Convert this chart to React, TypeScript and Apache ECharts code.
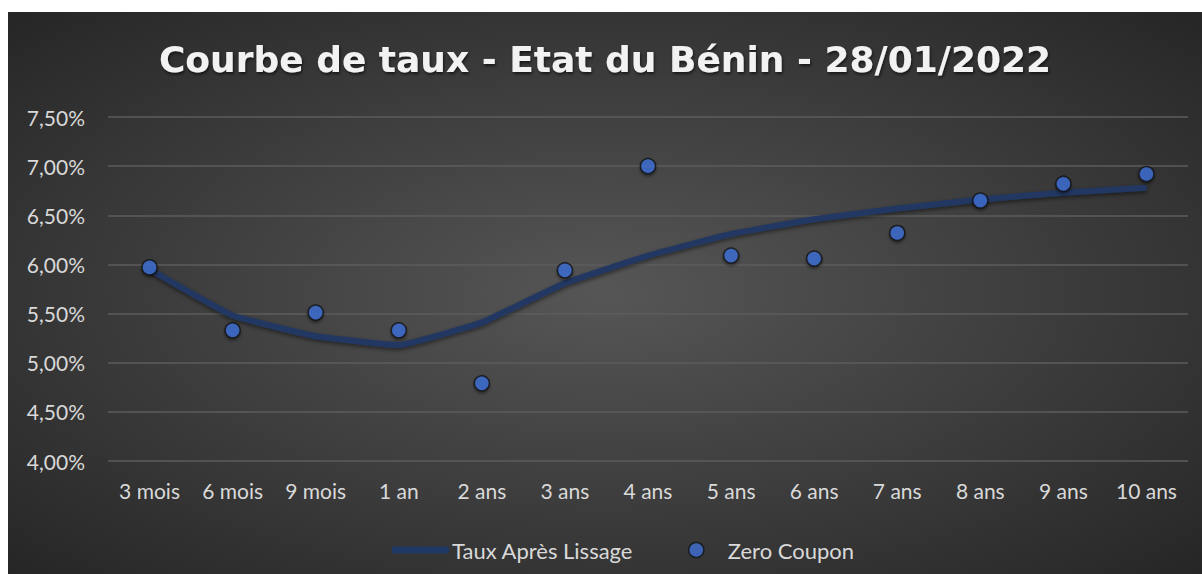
import React, { useEffect, useRef } from "react";
import * as echarts from "echarts";

const categories = ["3 mois", "6 mois", "9 mois", "1 an", "2 ans", "3 ans", "4 ans", "5 ans", "6 ans", "7 ans", "8 ans", "9 ans", "10 ans"];
const tauxLisse = [5.95, 5.48, 5.27, 5.18, 5.41, 5.81, 6.09, 6.31, 6.46, 6.57, 6.66, 6.73, 6.78];
const zeroCoupon = [5.97, 5.33, 5.51, 5.33, 4.79, 5.94, 7.0, 6.09, 6.06, 6.32, 6.65, 6.82, 6.92];
const yTicks = { min: 4, max: 7.5, interval: 0.5 };

const FONT = "Lato";
const LINE_COLOR = "#203864";
const DOT_COLOR = "#3f6fd4";

export default function App() {
  const ref = useRef<HTMLDivElement>(null);
  useEffect(() => {
    if (!ref.current) return;
    const chart = echarts.init(ref.current, null, { renderer: "svg" });
    chart.setOption({
      animation: false,
      backgroundColor: {
        type: "radial",
        x: 0.5,
        y: 0.5,
        r: 0.75,
        colorStops: [
          { offset: 0, color: "#565656" },
          { offset: 1, color: "#232323" },
        ],
      },
      title: {
        text: "Courbe de taux - Etat du Bénin - 28/01/2022",
        left: "center",
        top: 24,
        textStyle: {
          color: "#f2f2f2",
          fontFamily: "DejaVu Sans",
          fontWeight: "bold",
          fontSize: 36,
          textShadowColor: "rgba(0,0,0,0.6)",
          textShadowBlur: 3,
          textShadowOffsetX: 1,
          textShadowOffsetY: 2,
        },
      },
      grid: { left: 100, right: 14, top: 105, bottom: 113, containLabel: false },
      xAxis: {
        type: "category",
        data: categories,
        boundaryGap: true,
        axisLine: { show: false },
        axisTick: { show: false },
        axisLabel: { color: "#d9d9d9", fontSize: 21, fontFamily: FONT, margin: 19 },
      },
      yAxis: {
        type: "value",
        min: yTicks.min,
        max: yTicks.max,
        interval: yTicks.interval,
        axisLine: { show: false },
        axisTick: { show: false },
        splitLine: { lineStyle: { color: "#5c5c5c", width: 1.5 } },
        axisLabel: {
          color: "#d9d9d9",
          fontSize: 21,
          fontFamily: FONT,
          margin: 23,
          formatter: (v: number) => v.toFixed(2).replace(".", ",") + "%",
        },
      },
      legend: [
        {
          data: [{ name: "Taux Après Lissage", icon: "roundRect" }],
          left: 379,
          top: 522,
          itemWidth: 57,
          itemHeight: 7,
          itemGap: 0,
          textStyle: { color: "#d9d9d9", fontSize: 22, fontFamily: FONT, padding: [0, 0, 0, -2] },
          itemStyle: { color: LINE_COLOR },
          lineStyle: { color: LINE_COLOR, width: 7, cap: "round" },
        },
        {
          data: [{ name: "Zero Coupon", icon: "circle" }],
          left: 675,
          top: 522,
          itemWidth: 15,
          itemHeight: 15,
          textStyle: { color: "#d9d9d9", fontSize: 22, fontFamily: FONT, padding: [0, 0, 0, 19] },
          itemStyle: { color: DOT_COLOR, borderColor: "#111", borderWidth: 1.5 },
        },
      ],
      series: [
        {
          name: "Taux Après Lissage",
          type: "line",
          data: tauxLisse,
          showSymbol: false,
          symbol: "none",
          smooth: 0.1,
          lineStyle: {
            color: LINE_COLOR,
            width: 6,
            shadowColor: "rgba(0,0,0,0.5)",
            shadowBlur: 4,
            shadowOffsetY: 2,
          },
          itemStyle: { color: LINE_COLOR },
          z: 2,
        },
        {
          name: "Zero Coupon",
          type: "scatter",
          data: zeroCoupon,
          symbol: "circle",
          symbolSize: 15,
          itemStyle: {
            color: DOT_COLOR,
            borderColor: "#111",
            borderWidth: 1.5,
            shadowColor: "rgba(0,0,0,0.5)",
            shadowBlur: 3,
            shadowOffsetY: 2,
          },
          z: 3,
        },
      ],
    });
    return () => chart.dispose();
  }, []);
  return (
    <div
      ref={ref}
      style={{ position: "absolute", left: 8, top: 12, width: 1194, height: 562 }}
    />
  );
}
